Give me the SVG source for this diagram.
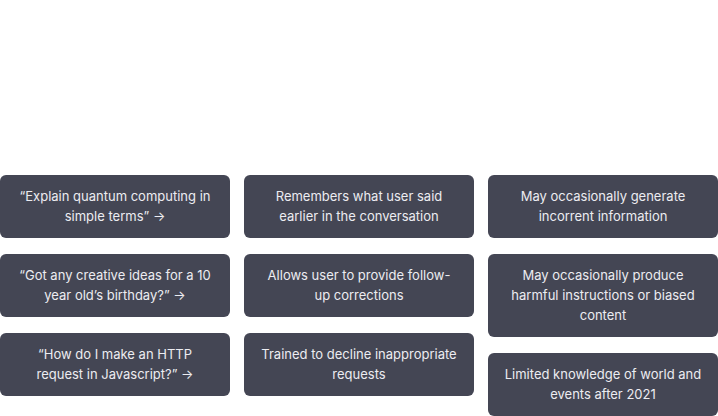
<svg xmlns="http://www.w3.org/2000/svg" width="718" height="416" viewBox="0 0 718 416">
<style>
.card{fill:#444654}
.t{font-family:Inter,"Liberation Sans",sans-serif;font-size:13px;fill:#ececf1;text-anchor:middle}
</style>
<rect width="718" height="416" fill="#ffffff"/>
<g id="c1">
<g id="n1"><rect class="card" x="0" y="175" width="230" height="63" rx="6"/><text class="t" x="115" y="201">“Explain quantum computing in</text><text class="t" x="115" y="221">simple terms” →</text></g>
<g id="n2"><rect class="card" x="0" y="254" width="230" height="63" rx="6"/><text class="t" x="115" y="280">“Got any creative ideas for a 10</text><text class="t" x="115" y="300">year old’s birthday?” →</text></g>
<g id="n3"><rect class="card" x="0" y="333" width="230" height="63" rx="6"/><text class="t" x="115" y="359">“How do I make an HTTP</text><text class="t" x="115" y="379">request in Javascript?” →</text></g>
</g>
<g id="c2">
<g id="n4"><rect class="card" x="244" y="175" width="230" height="63" rx="6"/><text class="t" x="359" y="201">Remembers what user said</text><text class="t" x="359" y="221">earlier in the conversation</text></g>
<g id="n5"><rect class="card" x="244" y="254" width="230" height="63" rx="6"/><text class="t" x="359" y="280">Allows user to provide follow-</text><text class="t" x="359" y="300">up corrections</text></g>
<g id="n6"><rect class="card" x="244" y="333" width="230" height="63" rx="6"/><text class="t" x="359" y="359">Trained to decline inappropriate</text><text class="t" x="359" y="379">requests</text></g>
</g>
<g id="c3">
<g id="n7"><rect class="card" x="488" y="175" width="230" height="63" rx="6"/><text class="t" x="603" y="201">May occasionally generate</text><text class="t" x="603" y="221">incorrent information</text></g>
<g id="n8"><rect class="card" x="488" y="254" width="230" height="83" rx="6"/><text class="t" x="603" y="280">May occasionally produce</text><text class="t" x="603" y="300">harmful instructions or biased</text><text class="t" x="603" y="320">content</text></g>
<g id="n9"><rect class="card" x="488" y="353" width="230" height="63" rx="6"/><text class="t" x="603" y="379">Limited knowledge of world and</text><text class="t" x="603" y="399">events after 2021</text></g>
</g>
<g id="connectors"/>
</svg>
